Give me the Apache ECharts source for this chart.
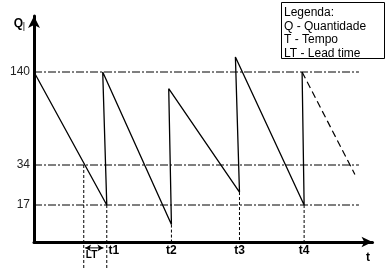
<!DOCTYPE html>
<html><head><meta charset="utf-8">
<script src="https://cdn.jsdelivr.net/npm/echarts@6/dist/echarts.min.js"></script>
<style>html,body{margin:0;padding:0;background:#fff}#c{width:388px;height:268px}</style>
</head><body><div id="c"></div>
<script>
// ---- data ----
const qLevels = [17, 34, 140];                 // y tick values / reference levels
const qLevelLabels = ['17', '34', '140'];
const tTimes = [21.5, 40.6, 60.7, 79.8];        // reorder instants t1..t4
const tLabels = ['t1', 't2', 't3', 't4'];
const stockTimes = [0, 21.5, 20.3, 40.6, 39.8, 60.7, 59.5, 79.8, 79.2];
const stockQ     = [140, 17, 140, 8, 121, 22.5, 157, 17, 140];
const forecastTimes = [79.2, 94.8];
const forecastQ     = [140, 30];
const ltStart = 14.7;                            // stock reaches reorder point 34
const legendLines = ['Legenda:', 'Q - Quantidade', 'T - Tempo', 'LT - Lead time'];

// ---- schematic (non-linear) vertical scale of the drawing ----
const scaleQ = [0, 17, 34, 140];
const scaleU = [0, 37, 77, 170];
function f(q) {
  const n = scaleQ.length;
  if (q <= scaleQ[0]) return scaleU[0] + (q - scaleQ[0]) * (scaleU[1] - scaleU[0]) / (scaleQ[1] - scaleQ[0]);
  for (let i = 1; i < n; i++) {
    if (q <= scaleQ[i]) return scaleU[i-1] + (q - scaleQ[i-1]) * (scaleU[i] - scaleU[i-1]) / (scaleQ[i] - scaleQ[i-1]);
  }
  return scaleU[n-1] + (q - scaleQ[n-1]) * (scaleU[n-1] - scaleU[n-2]) / (scaleQ[n-1] - scaleQ[n-2]);
}
const refEnd = 96;        // end of the horizontal reference lines (time units)
const belowAxisQ = -12;   // dotted lines run below the axis
const arrowQ = -2.7;

const FONT = '"Liberation Sans", Arial, sans-serif';
const chart = echarts.init(document.getElementById('c'), null, {renderer: 'canvas'});

const series = [];
// reference dash-dot lines
qLevels.forEach(q => {
  series.push({type: 'line', data: [[0, f(q)], [refEnd, f(q)]], symbol: 'none', silent: true,
    lineStyle: {color: '#000', width: 1, type: [8, 2, 2, 2]}, z: 2});
});
// dotted verticals
const dotted = [[ltStart, f(34), f(belowAxisQ)], [tTimes[0], f(17), f(belowAxisQ)]];
for (let i = 1; i < tTimes.length; i++) {
  const idx = stockTimes.indexOf(tTimes[i]);
  dotted.push([tTimes[i], f(stockQ[idx]), 0]);
}
dotted.forEach(d => {
  series.push({type: 'line', data: [[d[0], d[1]], [d[0], d[2]]], symbol: 'none', silent: true, clip: false,
    lineStyle: {color: '#000', width: 1, type: [3, 2]}, z: 2});
});
// stock sawtooth
series.push({type: 'line', data: stockTimes.map((t, i) => [t, f(stockQ[i])]), symbol: 'none', clip: false,
  lineStyle: {color: '#000', width: 1.3}, z: 5});
// lead-time double arrow
series.push({type: 'line', clip: false, silent: true, z: 6,
  showSymbol: true, showAllSymbol: true, symbolSize: [5, 6],
  itemStyle: {color: '#000'}, lineStyle: {color: '#000', width: 1},
  data: [
    {value: [ltStart + 0.4, f(arrowQ)], symbol: 'arrow', symbolRotate: 90},
    {value: [tTimes[0] - 1.0, f(arrowQ)], symbol: 'arrow', symbolRotate: -90}
  ]});
// forecast dashed
series.push({type: 'line', data: forecastTimes.map((t, i) => [t, f(forecastQ[i])]), symbol: 'none', clip: false,
  lineStyle: {color: '#000', width: 1.2, type: [7, 4]}, z: 5});

const option = {
  animation: false,
  backgroundColor: '#fff',
  grid: {left: 34, right: 15.5, top: 16, bottom: 26, containLabel: false, outerBoundsMode: 'none'},
  xAxis: {
    type: 'value', min: 0, max: 100,
    axisLine: {show: true, onZero: false, lineStyle: {color: '#000', width: 3}, symbol: ['none', 'arrow'], symbolSize: [8, 11]},
    axisTick: {show: false}, splitLine: {show: false},
    axisLabel: {
      customValues: tTimes, margin: 3, color: '#000', fontSize: 12, fontWeight: 'bold', fontFamily: FONT,
      formatter: (v, i) => { const k = tTimes.indexOf(v); return k === 0 ? '{s|' + tLabels[k] + '}' : tLabels[k]; },
      rich: {s: {padding: [0, 0, 0, 14], fontSize: 12, fontWeight: 'bold', fontFamily: FONT, color: '#000'}}
    }
  },
  yAxis: {
    type: 'value', min: 0, max: 226,
    axisLine: {show: true, lineStyle: {color: '#000', width: 3}, symbol: ['none', 'arrow'], symbolSize: [9, 12]},
    axisTick: {show: false}, splitLine: {show: false},
    axisLabel: {
      customValues: qLevels.map(f), margin: 4, color: '#222', fontSize: 12, fontFamily: FONT,
      formatter: (v) => { const k = qLevels.map(f).indexOf(v); return qLevelLabels[k]; }
    }
  },
  series: series,
  graphic: [
    {type: 'rect', shape: {x: 281.5, y: 2.5, width: 103, height: 56}, style: {fill: '#fff', stroke: '#000', lineWidth: 1}, z: 10},
    ...legendLines.map((s, i) => ({type: 'text', x: 284, y: 13 + i * 13.5, z: 11,
      style: {text: s, fill: '#000', font: '12px ' + FONT, textVerticalAlign: 'middle', textAlign: 'left'}})),
    {type: 'text', x: 18.5, y: 24, style: {text: 'Q', fill: '#000', font: 'bold 12px ' + FONT, textAlign: 'center', textVerticalAlign: 'middle'}},
    {type: 'text', x: 24, y: 27, style: {text: '|', fill: '#000', font: '9px ' + FONT, textAlign: 'center', textVerticalAlign: 'middle'}},
    {type: 'text', x: 368, y: 258, style: {text: 't', fill: '#000', font: 'bold 12px ' + FONT, textAlign: 'center', textVerticalAlign: 'middle'}},
    {type: 'text', x: 91.5, y: 255.5, style: {text: 'LT', fill: '#000', font: 'bold 10px ' + FONT, textAlign: 'center', textVerticalAlign: 'middle'}}
  ]
};
chart.setOption(option);
</script>
</body></html>
